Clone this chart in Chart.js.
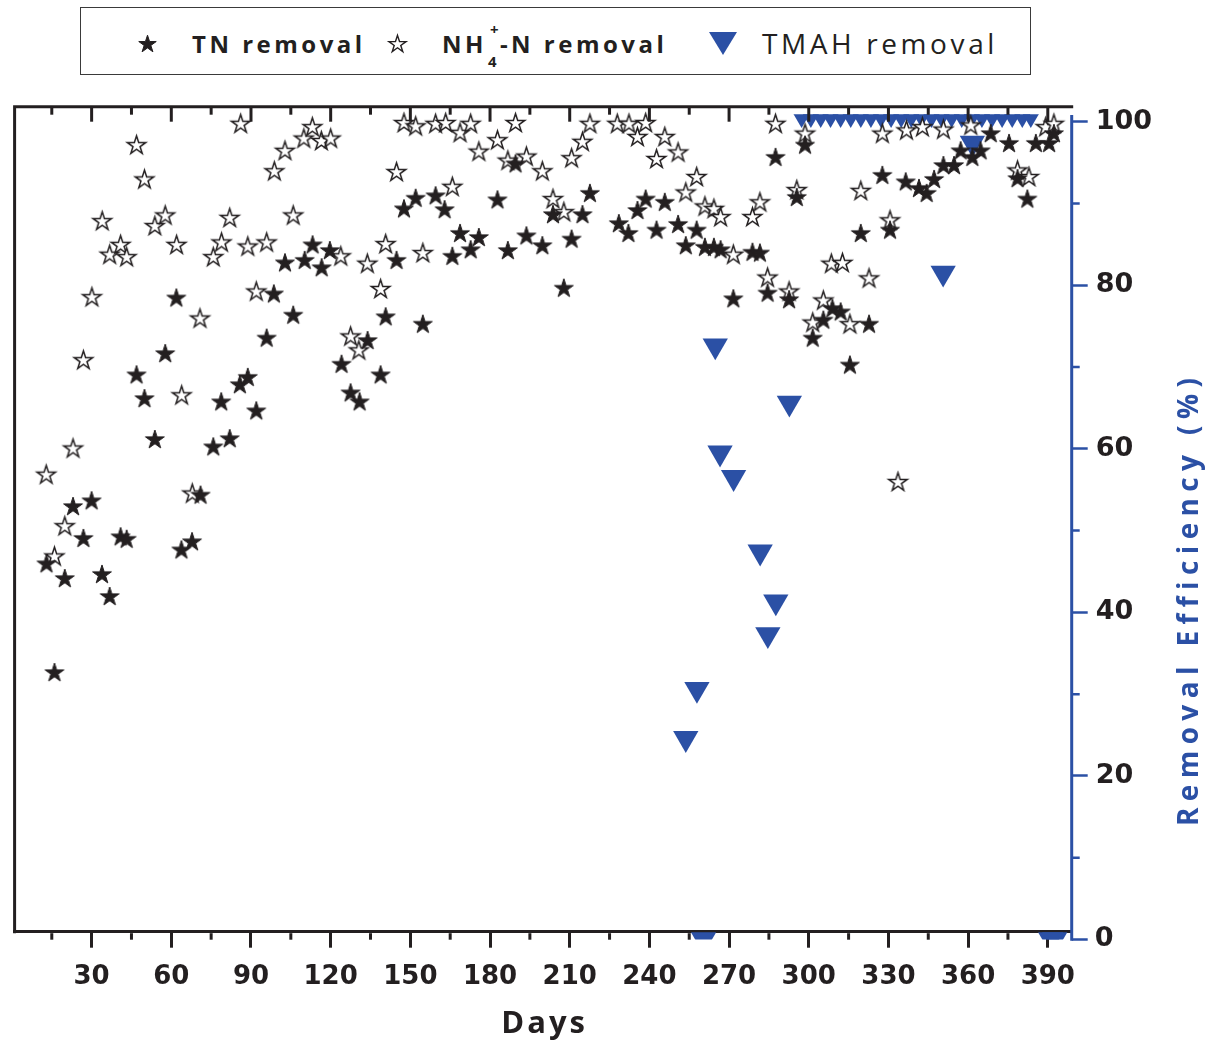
<!DOCTYPE html>
<html>
<head>
<meta charset="utf-8">
<script src="https://cdn.jsdelivr.net/npm/chart.js@4.4.1/dist/chart.umd.min.js"></script>
<style>
html, body { margin: 0; padding: 0; background: #ffffff; }
#wrap { position: relative; width: 1211px; height: 1043px; overflow: hidden; }
#chart { position: absolute; left: 0; top: 0; }
#legend { position: absolute; left: 80px; top: 7px; width: 951px; height: 68px; border: 1.5px solid #3a3a3a; box-sizing: border-box; font-family: 'Open Sans', sans-serif; color: #231f20; background: #fff; }
#legend .mk { position: absolute; }
#legend .txt { position: absolute; white-space: nowrap; line-height: 1; }
#legend .b { font-weight: bold; font-size: 24px; letter-spacing: 3.5px; }
#legend .r { font-weight: normal; font-size: 28px; letter-spacing: 3.6px; }
#legend .ss { position: relative; display: inline-block; width: 13px; height: 10px; }
#legend .ss .sb { position: absolute; left: 1px; top: 11px; font-size: 15px; letter-spacing: 0; }
#legend .ss .sp { position: absolute; left: 3px; top: -21px; font-size: 15px; letter-spacing: 0; }
</style>
</head>
<body>
<div id="wrap">
<canvas id="chart" width="1211" height="1043"></canvas>
<div id="legend">
  <span class="txt b" style="left:111px;top:24px;">TN removal</span>
  <span class="txt b" style="left:361px;top:24px;">NH<span class="ss"><span class="sb">4</span><span class="sp">+</span></span>-N removal</span>
  <span class="txt r" style="left:681px;top:21px;">TMAH removal</span>
</div>
</div>
<script>
// ---------------- data ----------------
const tnDays = [13.0, 16.0, 19.9, 23.0, 26.9, 30.0, 33.9, 36.8, 40.9, 43.2, 46.9, 49.9, 53.8, 57.7, 61.9, 63.8, 67.8, 71.0, 75.8, 78.8,
  82.0, 85.8, 88.8, 92.0, 95.9, 98.6, 102.8, 105.9, 110.2, 113.2, 116.6, 119.7, 124.1, 127.5, 130.9, 133.9, 138.8, 140.7, 144.8, 147.6,
  152.0, 154.7, 159.5, 162.9, 165.8, 168.7, 172.7, 175.8, 182.8, 186.7, 189.6, 193.7, 199.7, 203.7, 207.8, 210.7, 214.8, 217.6, 228.5, 232.1,
  235.5, 238.6, 242.7, 245.8, 250.8, 253.7, 257.8, 260.9, 264.3, 266.8, 271.6, 278.8, 281.6, 284.5, 287.5, 292.6, 295.5, 298.6, 301.5, 305.5,
  308.9, 312.0, 315.5, 319.6, 322.7, 327.7, 330.6, 336.5, 341.5, 344.4, 347.2, 350.7, 354.7, 357.2, 361.6, 364.7, 368.5, 375.4, 378.6, 382.3,
  385.5, 390.5, 392.3];
const tnRemoval = [46.0, 32.7, 44.2, 53.0, 49.1, 53.7, 44.7, 42.0, 49.3, 49.0, 69.1, 66.2, 61.2, 71.7, 78.5, 47.7, 48.7, 54.4, 60.3, 65.8,
  61.3, 67.9, 68.8, 64.7, 73.6, 79.0, 82.8, 76.4, 83.1, 85.0, 82.2, 84.3, 70.4, 66.9, 65.8, 73.3, 69.1, 76.2, 83.1, 89.4,
  90.7, 75.3, 91.0, 89.3, 83.6, 86.4, 84.4, 85.9, 90.5, 84.3, 94.9, 86.1, 84.9, 88.7, 79.7, 85.7, 88.7, 91.3, 87.6, 86.4,
  89.2, 90.6, 86.8, 90.2, 87.5, 84.9, 86.8, 84.7, 84.7, 84.4, 78.4, 84.1, 84.0, 79.1, 95.7, 78.3, 90.8, 97.2, 73.6, 75.8,
  77.2, 76.8, 70.3, 86.4, 75.3, 93.5, 86.8, 92.7, 91.9, 91.3, 93.0, 94.7, 94.7, 96.5, 95.7, 96.5, 98.6, 97.4, 93.1, 90.6,
  97.4, 97.4, 98.6];

const nh4Days = [12.9, 16.0, 19.9, 23.0, 26.9, 30.1, 34.0, 36.8, 40.9, 43.2, 46.9, 49.9, 53.8, 57.7, 62.0, 63.9, 67.9, 70.8, 75.8, 78.9,
  82.0, 86.1, 88.8, 92.0, 95.9, 98.8, 102.8, 105.9, 109.9, 113.1, 116.5, 120.0, 123.8, 127.5, 130.6, 133.8, 138.8, 140.7, 144.8, 147.6,
  152.0, 154.7, 159.5, 163.3, 165.8, 168.7, 172.7, 175.8, 182.8, 186.7, 189.6, 193.7, 199.7, 203.7, 207.8, 210.7, 214.8, 217.6, 227.9, 232.3,
  235.5, 238.6, 242.7, 245.8, 250.8, 253.7, 257.8, 260.9, 264.3, 266.8, 271.6, 278.8, 281.6, 284.5, 287.5, 292.6, 295.5, 298.6, 301.5, 305.5,
  308.5, 312.7, 315.5, 319.6, 322.7, 327.7, 330.6, 333.6, 336.8, 342.8, 350.7, 361.0, 378.6, 382.9, 389.2, 392.3];
const nh4Removal = [56.9, 46.9, 50.6, 60.1, 70.9, 78.6, 87.9, 83.8, 85.0, 83.5, 97.2, 93.0, 87.3, 88.6, 85.0, 66.6, 54.6, 76.0, 83.5, 85.3,
  88.3, 99.8, 84.8, 79.3, 85.3, 94.0, 96.5, 88.6, 98.0, 99.4, 97.7, 98.0, 83.6, 73.8, 72.1, 82.7, 79.6, 85.1, 93.9, 99.9,
  99.5, 84.0, 99.8, 99.9, 92.1, 98.7, 99.8, 96.4, 97.8, 95.3, 99.9, 95.8, 94.0, 90.6, 89.0, 95.6, 97.6, 99.8, 99.8, 99.8,
  98.2, 99.9, 95.5, 98.2, 96.3, 91.4, 93.3, 89.7, 89.4, 88.4, 83.8, 88.4, 90.2, 81.0, 99.8, 79.3, 91.7, 98.6, 75.5, 78.2,
  82.7, 82.8, 75.3, 91.6, 80.9, 98.6, 88.0, 56.0, 99.0, 99.4, 99.1, 99.6, 94.1, 93.3, 99.4, 99.8];

const tmahDays = [253.7, 257.9, 260.4, 264.8, 266.6, 271.7, 281.7, 284.6, 287.6, 292.7,
  297.3, 300.8, 304.5, 308.2, 312.0, 315.8, 319.6, 323.4, 327.2, 331.0, 334.8, 338.6, 342.4, 346.2, 350.0, 350.6, 353.8,
  357.6, 361.4, 361.6, 365.2, 369.0, 372.8, 376.6, 380.4, 383.6, 391.1, 392.6];
const tmahRemoval = [24.6, 30.6, 0, 72.6, 59.5, 56.5, 47.4, 37.3, 41.3, 65.6,
  101, 101, 101, 101, 101, 101, 101, 101, 101, 101, 101, 101, 101, 101, 101, 81.5, 101,
  101, 101, 97.4, 101, 101, 101, 101, 101, 101, 0, 0];

const xTickStep = 30;      // labelled ticks: 30, 60, ... 390
const xMinorStep = 15;     // minor ticks
const yTickStep = 20;      // labelled ticks: 0, 20, ... 100
const yMinorStep = 10;
const xTitle = 'Days';
const yTitle = 'Removal Efficiency (%)';
const seriesNames = ['TN removal', 'NH4+-N removal', 'TMAH removal'];

// ---------------- styling ----------------
const DARK = '#231f20';
const BLUE = '#2b50a5';

function makeStar(fill, stroke, R, lw) {
  const s = Math.ceil(2 * R + 2 * lw + 2);
  const c = document.createElement('canvas');
  c.width = s; c.height = s;
  const g = c.getContext('2d');
  const cx = s / 2, cy = s / 2 + 0.0955 * R;
  g.beginPath();
  for (let k = 0; k < 10; k++) {
    const r = (k % 2 === 0) ? R : R * 0.382;
    const a = -Math.PI / 2 + k * Math.PI / 5;
    const px = cx + r * Math.cos(a), py = cy + r * Math.sin(a);
    if (k === 0) g.moveTo(px, py); else g.lineTo(px, py);
  }
  g.closePath();
  g.fillStyle = fill; g.fill();
  g.lineJoin = 'miter'; g.lineWidth = lw; g.strokeStyle = stroke; g.stroke();
  return c;
}
function makeTriangle(w, h, color) {
  const c = document.createElement('canvas');
  c.width = w; c.height = h;
  const g = c.getContext('2d');
  g.beginPath(); g.moveTo(0, 0); g.lineTo(w, 0); g.lineTo(w / 2, h); g.closePath();
  g.fillStyle = color; g.fill();
  return c;
}

const starFilled = makeStar(DARK, DARK, 9.9, 1);
const starOpen = makeStar('#ffffff', DARK, 9.7, 1.5);

// legend markers
(function () {
  const lg = document.getElementById('legend');
  const put = (el, cx, cy) => {
    el.className = 'mk';
    el.style.left = (cx - 81.5 - el.width / 2) + 'px';
    el.style.top = (cy - 8.5 - el.height / 2) + 'px';
    lg.appendChild(el);
  };
  put(makeStar(DARK, DARK, 9.2, 1), 148, 44);
  put(makeStar('#ffffff', DARK, 9.0, 1.4), 398, 44);
  put(makeTriangle(28, 23, BLUE), 723, 44);
})();

const pts = (xs, ys) => xs.map((v, i) => ({ x: v, y: ys[i] }));

const axisPlugin = {
  id: 'axisDecor',
  afterDraw(chart) {
    const { ctx, chartArea: a } = chart;
    const xs = chart.scales.x, ys = chart.scales.y;
    ctx.save();
    // black frame: left and top
    ctx.strokeStyle = DARK; ctx.lineWidth = 3; ctx.lineCap = 'square'; ctx.lineJoin = 'miter';
    ctx.beginPath();
    ctx.moveTo(a.left, a.bottom);
    ctx.lineTo(a.left, a.top);
    ctx.lineTo(a.right, a.top);
    ctx.stroke();
    ctx.lineCap = 'butt';
    // top inward ticks and bottom minor ticks
    for (let v = xMinorStep; v < xs.max; v += xMinorStep) {
      const px = xs.getPixelForValue(v);
      const major = (v % xTickStep === 0);
      ctx.beginPath();
      ctx.moveTo(px, a.top);
      ctx.lineTo(px, a.top + (major ? 15 : 8));
      ctx.stroke();
      if (!major) {
        ctx.beginPath();
        ctx.moveTo(px, a.bottom + 1.5);
        ctx.lineTo(px, a.bottom + 8);
        ctx.stroke();
      }
    }
    // blue right axis (offset layer that reaches 0)
    const y0 = ys.getPixelForValue(0);
    const yTop = ys.getPixelForValue(100.8);
    ctx.strokeStyle = BLUE; ctx.lineWidth = 3;
    ctx.beginPath();
    ctx.moveTo(a.right, yTop);
    ctx.lineTo(a.right, y0 + 1.2);
    ctx.stroke();
    ctx.lineWidth = 2.5;
    ctx.beginPath();
    ctx.moveTo(a.right, y0); ctx.lineTo(a.right + 16, y0);
    for (let v = yMinorStep; v < 100; v += yTickStep) {
      const py = ys.getPixelForValue(v);
      ctx.moveTo(a.right, py); ctx.lineTo(a.right + 8, py);
    }
    ctx.stroke();
    ctx.fillStyle = DARK;
    ctx.font = 'bold 27px "DejaVu Sans"';
    ctx.textAlign = 'left'; ctx.textBaseline = 'middle';
    ctx.fillText('0', a.right + 16 + 7, y0);
    // x title
    ctx.font = 'bold 31px "Open Sans"';
    ctx.letterSpacing = '3px';
    ctx.textAlign = 'center'; ctx.textBaseline = 'middle';
    ctx.fillText(xTitle, (a.left + a.right) / 2 + 1.5, 1024);
    // y title (rotated, reading upward)
    ctx.translate(1190, 602);
    ctx.rotate(-Math.PI / 2);
    ctx.font = 'bold 28px "Open Sans"';
    ctx.letterSpacing = '0px';
    const w0 = ctx.measureText(yTitle).width;
    const sp = Math.max(0, (448 - w0) / (yTitle.length - 1));
    ctx.letterSpacing = sp + 'px';
    ctx.fillStyle = BLUE;
    ctx.fillText(yTitle, sp / 2, 0);
    ctx.restore();
  }
};

new Chart(document.getElementById('chart').getContext('2d'), {
  type: 'scatter',
  data: {
    datasets: [
      { label: seriesNames[0], data: pts(tnDays, tnRemoval), pointStyle: starFilled, pointRadius: 10, pointHoverRadius: 10,
        backgroundColor: DARK, borderColor: DARK },
      { label: seriesNames[1], data: pts(nh4Days, nh4Removal), pointStyle: starOpen, pointRadius: 10, pointHoverRadius: 10,
        backgroundColor: '#ffffff', borderColor: DARK },
      { label: seriesNames[2], data: pts(tmahDays, tmahRemoval), pointStyle: 'triangle', rotation: 180, pointRadius: 14.6,
        pointHoverRadius: 14.6, backgroundColor: BLUE, borderColor: BLUE, borderWidth: 0,
        clip: { left: 0, top: -7.6, right: 0, bottom: 7.8 } }
    ]
  },
  options: {
    responsive: false,
    animation: false,
    devicePixelRatio: 1,
    events: [],
    layout: { padding: { left: 14, top: 106.7, right: 0, bottom: 0 } },
    plugins: { legend: { display: false }, tooltip: { enabled: false }, title: { display: false } },
    scales: {
      x: {
        type: 'linear', position: 'bottom', min: 1, max: 399,
        afterFit(s) { s.height = 1043 - 931.7; },
        ticks: { stepSize: xTickStep, includeBounds: false, autoSkip: false, maxRotation: 0, padding: 14,
          color: DARK, font: { family: 'DejaVu Sans', weight: 'bold', size: 26 } },
        grid: { drawOnChartArea: false, drawTicks: true, tickLength: 16, tickWidth: 3, tickColor: DARK },
        border: { display: true, color: DARK, width: 3 },
        title: { display: false, text: xTitle }
      },
      y: {
        type: 'linear', position: 'right', min: 0.95, max: 101.83,
        afterFit(s) { s.width = 1211 - 1071.7; },
        ticks: { stepSize: yTickStep, includeBounds: false, padding: 8,
          color: DARK, font: { family: 'DejaVu Sans', weight: 'bold', size: 27 } },
        grid: { drawOnChartArea: false, drawTicks: true, tickLength: 16, tickWidth: 2.5, tickColor: BLUE },
        border: { display: false },
        title: { display: false, text: yTitle }
      }
    }
  },
  plugins: [axisPlugin]
});
</script>
</body>
</html>
